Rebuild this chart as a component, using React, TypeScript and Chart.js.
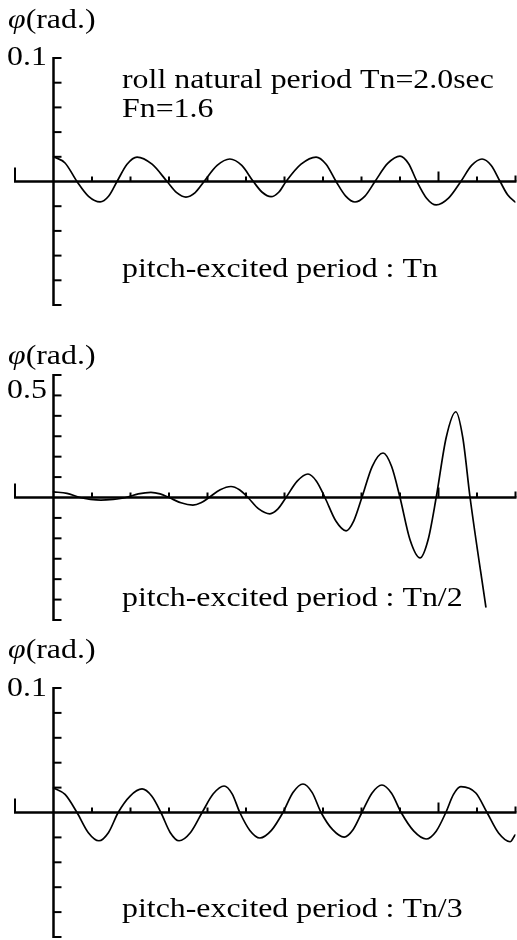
import { useEffect, useRef } from "react";
import { Chart, registerables } from "chart.js";

Chart.register(...registerables);

// Time axis (s): the horizontal axis starts one second before t = 0.
const timeMin = -1;
const timeMax = 12;
const secondTicks = [1, 2, 3, 4, 5, 6, 7, 8, 9, 10, 11, 12];
const longSecondTick = 10;

// Pitch-excited period Tn
const tnTime = [
  0, 0.3, 0.61, 0.91, 1.21, 1.43, 1.65, 1.91, 2.17, 2.56, 2.95, 3.2, 3.44, 3.68, 3.91, 4.25, 4.58, 4.89, 5.19,
  5.42, 5.65, 5.85, 6.04, 6.43, 6.82, 7.08, 7.34, 7.59, 7.83, 8.09, 8.35, 8.68, 9.0, 9.22, 9.44, 9.69, 9.94,
  10.26, 10.58, 10.86, 11.13, 11.37, 11.6, 11.8, 11.99,
];
const tnRoll = [
  0.020, 0.015, 0, -0.012, -0.0165, -0.012, 0, 0.014, 0.0198, 0.014, 0, -0.009, -0.0126, -0.009, 0, 0.013, 0.0182,
  0.013, 0, -0.0087, -0.0123, -0.0087, 0, 0.014, 0.0198, 0.014, 0, -0.0118, -0.0166, -0.0118, 0, 0.0146, 0.0206,
  0.0146, 0, -0.0135, -0.019, -0.0135, 0, 0.013, 0.0182, 0.013, 0, -0.011, -0.0166,
];
const tnRollTicks = [-0.1, -0.08, -0.06, -0.04, -0.02, 0.02, 0.04, 0.06, 0.08, 0.1];

// Pitch-excited period Tn/2 (parametric roll grows)
const halfTime = [
  0, 0.35, 0.69, 0.96, 1.23, 1.55, 1.88, 2.2, 2.53, 2.77, 3.0, 3.31, 3.62, 3.83, 4.04, 4.33, 4.61, 4.83, 5.05,
  5.33, 5.62, 5.83, 6.04, 6.33, 6.61, 6.83, 7.05, 7.33, 7.6, 7.8, 8.01, 8.28, 8.56, 8.78, 9.0, 9.26, 9.52, 9.73,
  9.94, 10.2, 10.45, 10.63, 10.82, 11.23,
];
const halfRoll = [
  0.028, 0.02, 0, -0.009, -0.013, -0.009, 0, 0.0175, 0.025, 0.0175, 0, -0.026, -0.037, -0.026, 0, 0.038, 0.054,
  0.038, 0, -0.056, -0.08, -0.056, 0, 0.08, 0.115, 0.08, 0, -0.114, -0.163, -0.114, 0, 0.153, 0.218, 0.153, 0,
  -0.207, -0.296, -0.207, 0, 0.294, 0.42, 0.294, 0, -0.536,
];
const halfRollTicks = [-0.6, -0.5, -0.4, -0.3, -0.2, -0.1, 0.1, 0.2, 0.3, 0.4, 0.5, 0.6];

// Pitch-excited period Tn/3
const thirdTime = [
  0, 0.3, 0.61, 0.9, 1.18, 1.43, 1.68, 1.99, 2.3, 2.55, 2.79, 3.03, 3.26, 3.56, 3.86, 4.15, 4.43, 4.64, 4.84,
  5.1, 5.36, 5.66, 5.96, 6.22, 6.48, 6.72, 6.95, 7.25, 7.55, 7.78, 8.01, 8.27, 8.53, 8.78, 9.03, 9.36, 9.68, 9.94,
  10.19, 10.39, 10.58, 10.97, 11.26, 11.56, 11.86, 11.99,
];
const thirdRoll = [
  0.0197, 0.0145, 0, -0.016, -0.0227, -0.016, 0, 0.0132, 0.0189, 0.0132, 0, -0.016, -0.0227, -0.016, 0, 0.015,
  0.0213, 0.015, 0, -0.0144, -0.0205, -0.0144, 0, 0.016, 0.0229, 0.016, 0, -0.0138, -0.0197, -0.0138, 0, 0.0155,
  0.0221, 0.0155, 0, -0.015, -0.0213, -0.015, 0, 0.0146, 0.0208, 0.0157, 0, -0.0165, -0.0235, -0.018,
];
const thirdRollTicks = [-0.1, -0.08, -0.06, -0.04, -0.02, 0.02, 0.04, 0.06, 0.08, 0.1];

const FONT = '"Liberation Serif", "Times New Roman", serif';
const FONT_SIZE = 27;
const STRETCH = 1.18;

type Note = { text: string; x: number; y: number };

type Panel = {
  top: number;
  height: number;
  padTop: number;
  padBottom: number;
  limit: number;
  time: number[];
  roll: number[];
  ticks: number[];
  scaleLabel: string;
  scaleValue: number;
  scaleNudge: number;
  unitY: number;
  notes: Note[];
};

const panels: Panel[] = [
  {
    top: 0,
    height: 315,
    padTop: 58,
    padBottom: 10,
    limit: 0.1,
    time: tnTime,
    roll: tnRoll,
    ticks: tnRollTicks,
    scaleLabel: "0.1",
    scaleValue: 0.1,
    scaleNudge: 0,
    unitY: 28,
    notes: [
      { text: "roll natural period Tn=2.0sec", x: 122, y: 88 },
      { text: "Fn=1.6", x: 122, y: 117 },
      { text: "pitch-excited period : Tn", x: 122, y: 277 },
    ],
  },
  {
    top: 315,
    height: 315,
    padTop: 60,
    padBottom: 10,
    limit: 0.6,
    time: halfTime,
    roll: halfRoll,
    ticks: halfRollTicks,
    scaleLabel: "0.5",
    scaleValue: 0.5,
    scaleNudge: -5,
    unitY: 49,
    notes: [{ text: "pitch-excited period : Tn/2", x: 122, y: 291 }],
  },
  {
    top: 630,
    height: 310,
    padTop: 58,
    padBottom: 3,
    limit: 0.1,
    time: thirdTime,
    roll: thirdRoll,
    ticks: thirdRollTicks,
    scaleLabel: "0.1",
    scaleValue: 0.1,
    scaleNudge: 1,
    unitY: 28,
    notes: [{ text: "pitch-excited period : Tn/3", x: 122, y: 287 }],
  },
];

function stretchedText(ctx: CanvasRenderingContext2D, text: string, x: number, y: number, italic = false) {
  ctx.save();
  ctx.font = `${italic ? "italic " : ""}${FONT_SIZE}px ${FONT}`;
  ctx.translate(x, y);
  ctx.scale(STRETCH, 1);
  ctx.fillText(text, 0, 0);
  const w = ctx.measureText(text).width * STRETCH;
  ctx.restore();
  return w;
}

function line(ctx: CanvasRenderingContext2D, x1: number, y1: number, x2: number, y2: number) {
  ctx.beginPath();
  ctx.moveTo(x1, y1);
  ctx.lineTo(x2, y2);
  ctx.stroke();
}

function crossAxes(panel: Panel) {
  return {
    id: "crossAxes",
    afterDraw(chart: Chart) {
      const ctx = chart.ctx;
      const xs = chart.scales.x;
      const ys = chart.scales.y;
      const x0 = xs.getPixelForValue(0);
      const y0 = ys.getPixelForValue(0);
      ctx.save();
      ctx.strokeStyle = "#000";
      ctx.fillStyle = "#000";
      ctx.lineCap = "butt";

      // vertical roll-angle axis with ticks on its right
      ctx.lineWidth = 2.5;
      const yTop = ys.getPixelForValue(panel.limit);
      const yBot = ys.getPixelForValue(-panel.limit);
      line(ctx, x0, yTop - 1, x0, yBot + 1);
      ctx.lineWidth = 2;
      for (const v of panel.ticks) {
        const py = ys.getPixelForValue(v);
        line(ctx, x0, py, x0 + 8, py);
      }

      // horizontal time axis with upward ticks
      ctx.lineWidth = 2.3;
      const xl = xs.getPixelForValue(timeMin);
      const xr = xs.getPixelForValue(timeMax);
      line(ctx, xl - 1, y0, xr + 1, y0);
      ctx.lineWidth = 2;
      line(ctx, xl, y0, xl, y0 - 14);
      for (const t of secondTicks) {
        const px = xs.getPixelForValue(t);
        const len = t === longSecondTick ? 10 : t === timeMax ? 6 : 5;
        line(ctx, px, y0, px, y0 - len);
      }

      // texts
      ctx.textBaseline = "alphabetic";
      ctx.textAlign = "left";
      const phiW = stretchedText(ctx, "φ", 8, panel.unitY, true);
      stretchedText(ctx, "(rad.)", 8 + phiW, panel.unitY);
      ctx.textBaseline = "middle";
      stretchedText(ctx, panel.scaleLabel, 7, ys.getPixelForValue(panel.scaleValue) + panel.scaleNudge);
      ctx.textBaseline = "alphabetic";
      for (const n of panel.notes) stretchedText(ctx, n.text, n.x, n.y);
      ctx.restore();
    },
  };
}

function RollPanel({ panel }: { panel: Panel }) {
  const ref = useRef<HTMLCanvasElement | null>(null);
  useEffect(() => {
    const canvas = ref.current;
    if (!canvas) return;
    const chart = new Chart(canvas, {
      type: "line",
      data: {
        datasets: [
          {
            data: panel.time.map((t, i) => ({ x: t, y: panel.roll[i] })),
            borderColor: "#000",
            borderWidth: 1.7,
            pointRadius: 0,
            fill: false,
            cubicInterpolationMode: "monotone",
            borderJoinStyle: "round",
            borderCapStyle: "round",
          },
        ],
      },
      options: {
        animation: false,
        responsive: false,
        maintainAspectRatio: false,
        devicePixelRatio: 1,
        events: [],
        layout: { padding: { left: 15, right: 1.5, top: panel.padTop, bottom: panel.padBottom } },
        scales: {
          x: { type: "linear", min: timeMin, max: timeMax, display: false },
          y: { type: "linear", min: -panel.limit, max: panel.limit, display: false },
        },
        plugins: { legend: { display: false }, tooltip: { enabled: false } },
      },
      plugins: [crossAxes(panel)],
    } as any);
    return () => chart.destroy();
  }, [panel]);
  return (
    <canvas
      ref={ref}
      width={517}
      height={panel.height}
      style={{ position: "absolute", left: 0, top: panel.top, width: 517, height: panel.height, display: "block" }}
    />
  );
}

export default function App() {
  return (
    <div style={{ position: "absolute", left: 0, top: 0, width: 517, height: 940, background: "#fff", overflow: "hidden" }}>
      {panels.map((p, i) => (
        <RollPanel key={i} panel={p} />
      ))}
    </div>
  );
}
